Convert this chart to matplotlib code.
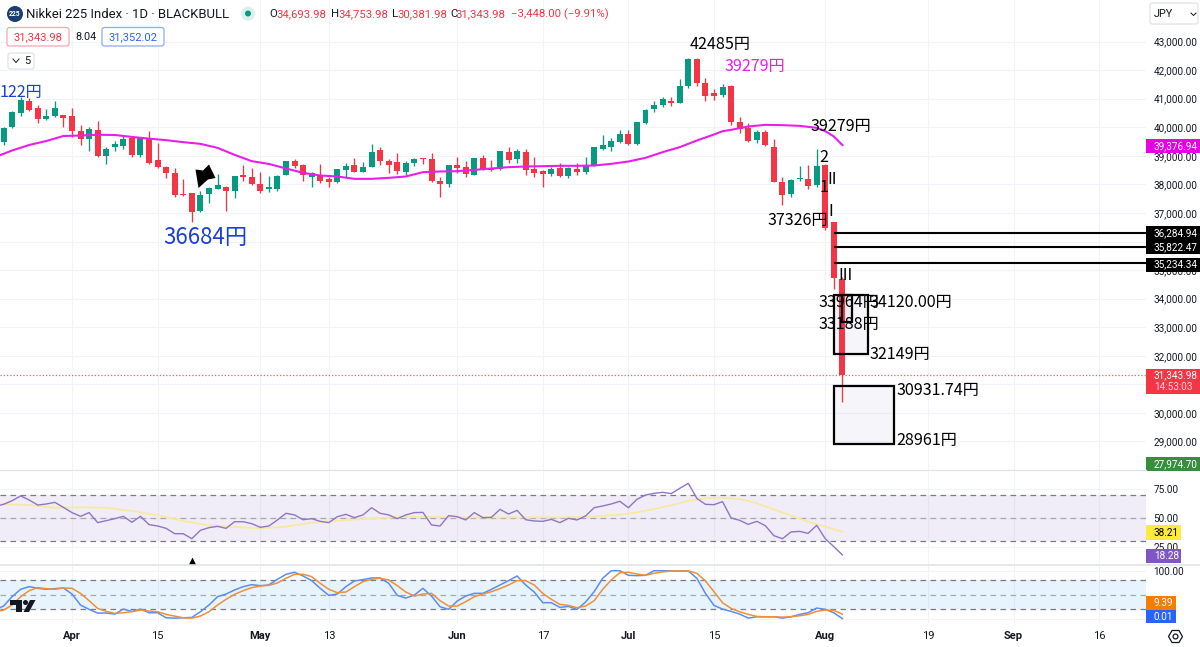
import matplotlib
matplotlib.use('Agg')
import matplotlib.pyplot as plt
from matplotlib.patches import Rectangle, Circle, Polygon, FancyBboxPatch

plt.rcParams['font.family'] = ['Roboto', 'DejaVu Sans']

bar_first = -8
# candles, Apr 1 is bar 0
opens = [39490, 40000, 40490, 40935, 40680, 40305, 40400, 40435, 40410, 39850, 39580, 39910, 39010, 39300, 39360, 39630, 39045, 39615, 38860, 38625,
         38415, 37670, 37700, 37085, 37670, 37855, 37900, 37760, 38335, 38265, 37995, 37830, 37855, 38345, 38825, 38660, 38275, 38345, 38195, 38090,
         38510, 38685, 38450, 38625, 39185, 38835, 38800, 38440, 38740, 38930, 38880, 38125, 38020, 38685, 38615, 38345, 38915, 38545, 38545, 39125,
         38880, 39125, 38530, 38475, 38370, 38565, 38310, 38555, 38450, 38650, 39245, 39325, 39500, 39770, 39420, 40155, 40645, 40770, 40935, 40865,
         41460, 42400, 41555, 41215, 41130, 41430, 40175, 39980, 39570, 39825, 39325, 38090, 37655, 38195, 38205, 37970, 38695, 36675, 34693.98]
highs = [40025, 40585, 41050, 41030, 40795, 40645, 40910, 40445, 40680, 40095, 40000, 40210, 39325, 39535, 39720, 39650, 39650, 39885, 39440, 38660,
         38580, 38195, 37715, 37785, 37900, 38370, 37960, 38310, 38685, 38565, 38440, 38285, 38345, 38835, 38880, 38720, 38425, 38720, 38250, 38550,
         38755, 38915, 38800, 39420, 39300, 38895, 39115, 38810, 38930, 38930, 39090, 38275, 38695, 38950, 38810, 38930, 39035, 38860, 39165, 39300,
         39245, 39245, 38975, 38510, 38600, 38740, 38600, 38740, 38950, 39305, 39745, 39630, 39910, 39910, 40200, 40645, 40910, 41050, 41075, 41695,
         42420, 42420, 41730, 41345, 41530, 41480, 40350, 40140, 39910, 39910, 39580, 38275, 38195, 38650, 38685, 39230, 38720, 36700, 34753.98]
lows = [39385, 39990, 40400, 40585, 40140, 40260, 40375, 40000, 39650, 39385, 39160, 38975, 38720, 39160, 39230, 38950, 38950, 38720, 38580, 38215,
        37575, 37600, 36684, 37030, 37365, 37830, 37060, 37515, 38135, 37995, 37690, 37725, 37760, 38320, 38580, 38110, 37925, 38040, 37925, 38040,
        38250, 38425, 38425, 38620, 38695, 38390, 38370, 38345, 38635, 38720, 38090, 37575, 37925, 38395, 38250, 38320, 38510, 38485, 38520, 38740,
        38740, 38345, 38250, 37900, 38285, 38275, 38230, 38335, 38370, 38645, 39210, 39160, 39440, 39395, 39395, 40105, 40550, 40725, 40735, 40860,
        41365, 41435, 40935, 40970, 41075, 40095, 39805, 39500, 39440, 39360, 38075, 37285, 37550, 38135, 37830, 37900, 36410, 34345, 30381.98]
closes = [39965, 40525, 40960, 40620, 40280, 40410, 40680, 40315, 39875, 39580, 39945, 38985, 39230, 39395, 39605, 39045, 39630, 38740, 38600, 38405,
          37635, 37645, 37030, 37645, 37880, 37970, 37760, 38275, 38250, 38020, 37760, 37890, 38300, 38825, 38635, 38320, 38390, 38135, 38100, 38545,
          38660, 38450, 38625, 39150, 38810, 38695, 38485, 38740, 38895, 38895, 38110, 38020, 38670, 38590, 38370, 38915, 38545, 38510, 39160, 38860,
          39150, 38520, 38390, 38370, 38545, 38285, 38565, 38450, 38660, 39300, 39395, 39535, 39770, 39420, 40175, 40620, 40795, 40970, 40865, 41460,
          42400, 41540, 41110, 41100, 41400, 40175, 39945, 39515, 39825, 39370, 38090, 37635, 38160, 38230, 37950, 38650, 36480, 34730, 31343.98]

ma_bars = [-9, -7, -5, -3, -1, 1, 3, 5, 7, 9, 11, 13, 15, 17, 19, 21, 23, 25, 27, 29, 31, 33, 35, 37, 39, 41, 43, 45, 47, 49, 51, 53, 55, 57, 59, 61, 63,
           65, 67, 69, 71, 73, 75, 76, 77, 79, 81, 83, 85, 87, 88, 89, 90]
ma_vals = [38950, 39185, 39378, 39518, 39692, 39710, 39735, 39728, 39660, 39600, 39547, 39477, 39418, 39278, 39033, 38812, 38715, 38555, 38403, 38310,
           38275, 38193, 38193, 38228, 38275, 38427, 38450, 38462, 38508, 38555, 38602, 38625, 38637, 38648, 38648, 38660, 38718,
           38800, 38928, 39127, 39302, 39535, 39745, 39860, 39908, 40025, 40083, 40072, 40048, 39978, 39862, 39675, 39377]

# indicator lines start one bar earlier than the visible candles
rsi = [60.0, 61.7, 64.8, 68.9, 65.4, 61.1, 62.0, 63.4, 59.1, 54.6, 51.4, 54.6, 46.0, 47.7, 49.4, 51.4, 46.3, 51.4, 44.3, 43.1, 41.1,
       36.5, 36.5, 32.2, 39.4, 41.7, 42.8, 41.1, 46.8, 46.8, 45.1, 42.0, 43.1, 48.3, 54.0, 52.6, 48.5, 49.4, 47.1, 46.0, 51.1,
       53.1, 50.3, 52.6, 58.8, 54.0, 52.6, 49.4, 52.6, 54.6, 54.8, 44.0, 43.1, 52.0, 51.1, 48.3, 54.6, 50.3, 50.5, 57.4, 53.4,
       56.5, 48.5, 47.4, 47.1, 48.8, 46.0, 49.7, 48.3, 51.7, 58.8, 60.3, 62.0, 64.3, 58.8, 66.0, 69.7, 71.1, 72.0, 70.9, 75.4,
       79.7, 66.8, 61.7, 61.4, 64.0, 50.0, 48.0, 44.5, 47.1, 43.4, 34.8, 32.2, 38.0, 38.5, 36.8, 43.7, 32.2, 25.4, 18.28]
rsi_ma_bars = [-9, -8, -5, -2, 1, 4, 7, 10, 13, 16, 19, 22, 25, 28, 31, 34, 37, 40, 43, 46, 49, 52, 55, 58, 60, 62, 64, 66, 68, 70, 72, 74, 76, 78, 80, 82, 84, 86, 88, 90]
rsi_ma = [61.8, 61.7, 61.1, 58.8, 59.1, 58.8, 56.0, 52.3, 47.4, 43.7, 42.3, 41.1, 42.5, 46.0, 47.7, 49.1, 50.3, 51.1, 50.8, 50.5, 50.5, 50.5, 50.5, 50.5, 50.8, 52.0, 52.8, 54.8, 57.7, 60.8, 64.8, 66.8, 67.4, 66.3, 62.6, 57.4, 52.0, 46.8, 42.5, 38.21]

stoch_k = [18.0, 26.3, 45.8, 61.2, 66.8, 63.3, 61.2, 62.6, 64.0, 51.4, 28.4, 19.4, 11.7, 11.7, 9.6, 20.0, 15.2, 20.0, 12.4, 12.4, 1.9,
           1.2, 1.9, 2.6, 14.5, 28.4, 45.8, 51.4, 59.8, 66.8, 70.9, 68.8, 70.2, 82.1, 92.5, 96.7, 89.0, 79.3, 63.3, 48.6, 51.4,
           66.8, 78.6, 81.4, 84.9, 84.9, 73.7, 48.6, 43.0, 49.3, 63.3, 47.2, 24.9, 19.4, 36.8, 47.2, 52.8, 52.8, 61.2, 70.2, 79.3,
           89.0, 70.2, 55.6, 33.3, 33.3, 23.5, 25.6, 19.4, 34.7, 56.3, 84.2, 100, 100, 90.4, 89.7, 90.4, 100, 100, 99.5, 99.5,
           99.5, 84.2, 52.8, 27.7, 20.0, 15.2, 9.6, 1.2, 4.0, 4.0, 4.0, 1.2, 4.0, 8.9, 12.4, 22.1, 19.4, 12.4, 0.01]
stoch_d = [14.0, 18.0, 28.4, 45.8, 58.4, 64.7, 62.6, 61.2, 64.0, 63.3, 52.8, 37.5, 21.4, 15.2, 11.0, 12.4, 14.5, 18.0, 15.9, 14.5, 8.9,
           5.4, 1.9, 1.2, 5.4, 14.5, 28.4, 40.3, 50.7, 58.4, 64.7, 68.2, 69.5, 74.4, 84.2, 92.5, 92.5, 87.7, 73.7, 61.2, 54.2,
           55.6, 66.8, 77.2, 82.1, 84.2, 80.7, 68.8, 55.6, 47.2, 51.4, 52.8, 37.5, 26.3, 26.3, 35.4, 45.8, 51.4, 56.3, 62.6, 70.2,
           79.3, 79.3, 70.2, 52.8, 40.3, 29.8, 27.7, 22.8, 26.3, 37.5, 61.2, 80.7, 96.0, 96.7, 93.2, 90.4, 94.6, 97.4, 99.5, 99.5,
           99.5, 94.6, 78.6, 56.3, 33.3, 21.4, 14.5, 8.9, 4.7, 4.0, 4.0, 3.3, 4.0, 6.1, 8.9, 15.2, 18.0, 17.3, 9.39]

price_ticks = list(range(29000, 44000, 1000))
hidden_ticks = [36000, 31000]  # fully covered by the tags in the reference
tick_bars = [0, 10, 22, 30, 45, 55, 65, 75, 88, 100, 110, 120]
tick_names = ['Apr', '15', 'May', '13', 'Jun', '17', 'Jul', '15', 'Aug', '19', 'Sep', '16']
level_prices = [36284.94, 35822.47, 35234.34]
last_price = 31343.98

GREEN = '#089981'
RED = '#f23645'
GRID = '#f0f3fa'
TEXT = '#131722'
W, H = 1200, 647
JP = ['Noto Sans CJK JP', 'DejaVu Sans']
AXIS_FS = 7.2

fig = plt.figure(figsize=(W / 100, H / 100), dpi=100, facecolor='white')


def pane(top, bottom):
    ax = fig.add_axes([0, 1 - bottom / H, 1146 / W, (bottom - top) / H])
    ax.set_xlim(-8.41, 125.47)
    for s in ax.spines.values():
        s.set_visible(False)
    ax.yaxis.tick_right()
    ax.tick_params(axis='both', length=0, labelsize=AXIS_FS, labelcolor=TEXT)
    ax.tick_params(axis='y', pad=5.5)
    ax.set_xticks(tick_bars)
    ax.set_xticklabels([])
    ax.grid(True, color=GRID, lw=0.8)
    ax.set_axisbelow(True)
    return ax


ax = pane(0, 470)
ax.set_ylim(44452.5 - 35 * 470, 44452.5)
ax.set_yticks(price_ticks)
ax.set_yticklabels(['' if p in hidden_ticks else f'{p:,.2f}' for p in price_ticks])

bars = list(range(bar_first, bar_first + len(opens)))
colors = [GREEN if c >= o else RED for o, c in zip(opens, closes)]
ax.vlines(bars, lows, highs, colors=colors, lw=0.95, zorder=3)
ax.bar(bars, [max(abs(c - o), 30) for o, c in zip(opens, closes)], bottom=[min(o, c) for o, c in zip(opens, closes)],
       width=0.7, color=colors, zorder=4)
ax.plot(ma_bars, ma_vals, color='#e91ee9', lw=1.5, zorder=5)
ax.axhline(last_price, color='#f0606e', lw=0.9, ls=(0, (1, 1.6)), zorder=2)

ax.hlines(level_prices, 89, 125.47, colors='black', lw=1.5, zorder=6)
for x0, x1, p0, p1 in [(89, 96, 28920, 30932), (89, 93, 32062, 34120), (90, 91.1, 33188, 34120)]:
    ax.add_patch(Rectangle((x0, p0), x1 - x0, p1 - p0, fc='#d8d8ec', alpha=0.25, ec='none', zorder=2.5))
    ax.add_patch(Rectangle((x0, p0), x1 - x0, p1 - p0, fc='none', ec='black', lw=1.6, zorder=7))

line_bars = [bar_first - 1] + bars

ax_rsi = pane(471, 564)
ax_rsi.set_ylim(10.5, 90.3)
ax_rsi.set_yticks([25, 50, 75])
ax_rsi.set_yticklabels(['25.00', '50.00', '75.00'])
ax_rsi.axhspan(30, 70, color='#7e57c2', alpha=0.1, lw=0)
for v, c in [(70, '#787b86'), (50, '#a5a7ae'), (30, '#787b86')]:
    ax_rsi.axhline(v, color=c, lw=0.9, ls=(0, (4.5, 3.5)))
ax_rsi.plot(rsi_ma_bars, rsi_ma, color='#f7e9a0', lw=1.3)
ax_rsi.plot(line_bars, rsi, color='#8f75c4', lw=1.0)
ax_rsi.scatter([14], [13], marker='^', s=32, color='black', lw=0)

ax_st = pane(565, 623)
ax_st.set_ylim(-9, 111.9)
ax_st.set_yticks([0, 100])
ax_st.set_yticklabels(['', '100.00'])
ax_st.axhspan(20, 80, color='#2196f3', alpha=0.1, lw=0)
for v, c in [(80, '#787b86'), (50, '#a5a7ae'), (20, '#787b86')]:
    ax_st.axhline(v, color=c, lw=0.9, ls=(0, (4.5, 3.5)))
ax_st.plot(line_bars, stoch_k, color='#5b8def', lw=1.1)
ax_st.plot(line_bars, stoch_d, color='#ef8f3a', lw=1.1)
ax_st.set_xticklabels(tick_names)
ax_st.tick_params(axis='x', labelsize=8, pad=6)
for lab, name in zip(ax_st.get_xticklabels(), tick_names):
    if not name.isdigit():
        lab.set_fontweight('bold')

# pixel overlay for the ui parts and drawn labels
ui = fig.add_axes([0, 0, 1, 1], zorder=10)
ui.set_xlim(0, W)
ui.set_ylim(H, 0)
ui.axis('off')
ui.plot([0, 1146], [470, 470], color='#e0e3eb', lw=0.9)
ui.plot([0, W], [564.5, 564.5], color='#e0e3eb', lw=1.2)

# the arrow drawing on the chart
ui.add_patch(Polygon([(198.5, 188), (195.5, 169.5), (203, 170.5), (209, 164.5), (215.5, 178), (208, 179.5)], fc='black', ec='none'))

labels = [('42485円', 690, 44, 'black', 11.6), ('39279円', 725, 66, '#e91ee9', 11.6), ('122円', 0, 93, '#1a3fd8', 11.6),
          ('36684円', 163, 237, '#1a3fd8', 16), ('39279円', 811, 126, 'black', 11.6), ('2', 819, 158, 'black', 11.6),
          ('1', 820, 187, 'black', 11.6), ('II', 827, 180, 'black', 11.6), ('I', 828, 211, 'black', 11.6),
          ('37326円', 768, 220, 'black', 11.6), ('III', 838, 276, 'black', 11.6), ('33964円', 819, 302, 'black', 11.6),
          ('34120.00円', 870, 302, 'black', 11.6), ('33188円', 819, 325, 'black', 11.6), ('32149円', 870, 355, 'black', 11.6),
          ('30931.74円', 897, 391, 'black', 11.6), ('28961円', 896, 440, 'black', 11.6)]
for s, x, y, c, fs in labels:
    ui.text(x, y, s, color=c, fontsize=fs, family=JP, va='center', ha='left', clip_on=False)

# header
ui.add_patch(Circle((15, 14), 8, fc='#1c3f73', ec='none'))
ui.text(15, 14, '225', color='white', fontsize=4.8, fontweight='bold', ha='center', va='center')
ui.text(26, 14, 'Nikkei 225 Index · 1D · BLACKBULL', color=TEXT, fontsize=9.45, va='center')
ui.add_patch(Circle((248, 13.5), 7, fc='#daf1ec', ec='none'))
ui.add_patch(Circle((248, 13.5), 3, fc=GREEN, ec='none'))
for letter, val, x in [('O', '34,693.98', 269), ('H', '34,753.98', 331), ('L', '30,381.98', 392), ('C', '31,343.98', 450)]:
    ui.text(x, 14, letter, color=TEXT, fontsize=8.2, va='center')
    ui.text(x + (7 if letter in 'OH' else 5.5), 14, val, color=RED, fontsize=8.2, va='center')
ui.text(511, 14, '−3,448.00 (−9.91%)', color=RED, fontsize=8.2, va='center')
for x0, x1, c, s in [(7, 69, '#f7a6ae', '31,343.98'), (102, 164, '#8fa9ee', '31,352.02')]:
    ui.add_patch(FancyBboxPatch((x0, 27.5), x1 - x0, 18.5, boxstyle='round,pad=0,rounding_size=2.5', fc='white', ec=c, lw=0.9))
    ui.text((x0 + x1) / 2, 37, s, color=RED if x0 == 7 else '#2962ff', fontsize=8, ha='center', va='center')
ui.text(86, 37, '8.04', color=TEXT, fontsize=7.8, ha='center', va='center')
ui.add_patch(FancyBboxPatch((8, 53), 26, 16, boxstyle='round,pad=0,rounding_size=2.5', fc='white', ec='#e0e3eb', lw=0.9))
ui.plot([13, 16, 19], [59, 62.5, 59], color=TEXT, lw=0.7)
ui.text(27, 61, '5', color=TEXT, fontsize=8, ha='center', va='center')
ui.add_patch(FancyBboxPatch((1150, 3), 48, 21, boxstyle='round,pad=0,rounding_size=2.5', fc='white', ec='#e0e3eb', lw=0.9))
ui.text(1154, 14, 'JPY', color=TEXT, fontsize=7.8, va='center')
ui.plot([1191, 1193.5, 1196], [13, 15.5, 13], color=TEXT, lw=0.7)

# price tags
tags = [(139, 153, 1200, '#e600e6', '39,376.94', 146), (226, 254, 1200, 'black', '36,284.94', 233), (226, 254, 1200, 'black', '35,822.47', 247.5),
        (258, 272, 1200, 'black', '35,234.34', 264.5), (369, 394, 1200, RED, '31,343.98', 375.5), (457, 471, 1200, '#388e3c', '27,974.70', 464),
        (525, 540, 1181, '#ffeb3b', '38.21', 532.5), (549, 563, 1181, '#7e57c2', '18.28', 556), (596, 610, 1176, '#f57c00', '9.39', 603), (610, 623, 1176, '#2962ff', '0.01', 616.5)]
for y0, y1, x1, c, s, ty in tags:
    ui.add_patch(Rectangle((1146, y0), x1 - 1146, y1 - y0, fc=c, ec='none'))
    ui.text(1154, ty, s, color='black' if c == '#ffeb3b' else 'white', fontsize=AXIS_FS, va='center')
ui.text(1154, 386.5, '14:53:03', color='#ffd5da', fontsize=AXIS_FS, va='center')

# tv logo and settings icon
ui.add_patch(Polygon([(10, 600), (22, 600), (22, 612), (16, 612), (16, 605), (10, 605)], fc=TEXT, ec='none'))
ui.add_patch(Circle((25.5, 602.5), 2.5, fc=TEXT, ec='none'))
ui.add_patch(Polygon([(30, 600), (35.5, 600), (29, 612), (23.5, 612)], fc=TEXT, ec='none'))
ui.plot([1175], [636], marker='H', ms=10, mfc='none', mec=TEXT, mew=0.9)
ui.plot([1175], [636], marker='o', ms=3.5, mfc='none', mec=TEXT, mew=0.9)

fig.savefig('out.png', dpi=100)
